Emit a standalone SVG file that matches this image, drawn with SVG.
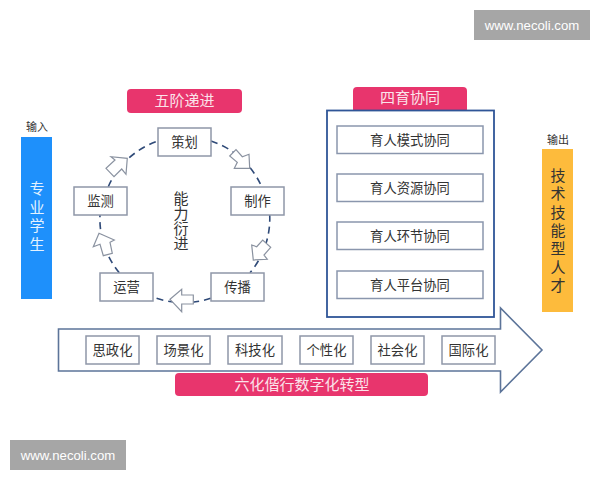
<svg xmlns="http://www.w3.org/2000/svg" width="600" height="480" viewBox="0 0 600 480">
<style>
text{font-family:"Noto Sans CJK SC","Noto Sans",sans-serif;text-anchor:middle;fill:#333}
.box{fill:#fff;stroke:#8f97a8;stroke-width:1.5}
.inner{fill:#fff;stroke:#8a96ad;stroke-width:1.5}
.t{font-size:13.3px}
.pill{fill:#e8356d}
.pt{font-size:15px;fill:#fbe3ea}
.arc{fill:none;stroke:#2f4a78;stroke-width:1.6;stroke-dasharray:7 5}
.blk{fill:#fff;stroke:#8a92a0;stroke-width:1.2;stroke-linejoin:miter}
.wm{fill:#a6a6a6}
.wt{font-family:"Liberation Sans",Arial,sans-serif;font-size:13.2px;fill:#fff}
.side{font-size:15px;writing-mode:vertical-rl;letter-spacing:3.4px}
.cap{font-size:11px}
</style>
<rect width="600" height="480" fill="#fff"/>
<g id="watermark-top"><rect class="wm" x="474" y="10" width="116" height="30"/><text class="wt" x="532" y="30">www.necoli.com</text></g>
<g id="watermark-bottom"><rect class="wm" x="10" y="440" width="116" height="30"/><text class="wt" x="68" y="460">www.necoli.com</text></g>

<g id="input"><text class="cap" x="37" y="131">输入</text><rect x="21" y="137" width="31" height="162" fill="#1e90fb"/>
<text class="side" x="37" y="218" style="fill:#e4f2ff">专业学生</text></g>

<g id="output"><text class="cap" x="558" y="144">输出</text><rect x="542" y="149" width="31" height="163" fill="#fdbb3c"/>
<text class="side" x="558" y="232">技术技能型人才</text></g>

<g id="label-wujie"><rect class="pill" x="127" y="89" width="115" height="24" rx="4"/><text class="pt" x="184.500" y="106">五阶递进</text></g>

<g id="connectors">
<path class="arc" d="M211 141A84 84 0 0 1 261.700 186.700"/>
<path class="arc" d="M269.700 214.700A84 84 0 0 1 250 272.700"/>
<path class="arc" d="M210.700 298.300A84 84 0 0 1 153.300 297"/>
<path class="arc" d="M119.300 272.700A84 84 0 0 1 100 214.700"/>
<path class="arc" d="M108.300 186.700A84 84 0 0 1 157.700 141"/>
<polygon class="blk" points="229.700,156 236,149.700 242.300,156.700 249,154.300 249.700,168.300 234.300,168.300 237.300,162.300"/>
<polygon class="blk" points="251.700,245 256.700,246.700 262.700,240 270.700,247.300 264,255 267.300,259.300 253.300,260"/>
<polygon class="blk" points="170,299.300 181.700,289.300 181.700,295 193.300,295 193.300,304 181.700,304 181.700,311.700"/>
<polygon class="blk" points="99,233.300 114.300,240 110,242.300 112.300,253.300 103.300,255.700 100,244.300 93.300,246.700"/>
<polygon class="blk" points="127.300,158.300 126,174.300 121.700,169 114,176.700 106,168.300 115,160 111,156.700"/>
</g>

<g id="node-cehua"><rect class="box" x="158" y="128" width="53" height="28"/><text class="t" x="184.500" y="147">策划</text></g>
<g id="node-zhizuo"><rect class="box" x="231" y="187" width="53" height="28"/><text class="t" x="257.500" y="206">制作</text></g>
<g id="node-chuanbo"><rect class="box" x="211" y="273" width="53" height="28"/><text class="t" x="237.500" y="292">传播</text></g>
<g id="node-yunying"><rect class="box" x="100" y="273" width="53" height="28"/><text class="t" x="126.500" y="292">运营</text></g>
<g id="node-jiance"><rect class="box" x="74" y="187" width="53" height="28"/><text class="t" x="100.500" y="206">监测</text></g>
<g id="center-label"><text x="181" y="221" style="font-size:15px;writing-mode:vertical-rl">能力衍进</text></g>

<g id="label-siyu"><rect class="pill" x="353" y="87" width="114" height="26" rx="4"/><text class="pt" x="410" y="103">四育协同</text></g>
<g id="panel"><rect x="327" y="110.500" width="167" height="206.500" fill="#fff" stroke="#2f5597" stroke-width="1.800"/></g>
<g id="node-moshi"><rect class="inner" x="337" y="126" width="146" height="27.500"/><text class="t" x="410" y="144.500">育人模式协同</text></g>
<g id="node-ziyuan"><rect class="inner" x="337" y="174" width="146" height="27.500"/><text class="t" x="410" y="192.500">育人资源协同</text></g>
<g id="node-huanjie"><rect class="inner" x="337" y="222" width="146" height="27.500"/><text class="t" x="410" y="240.500">育人环节协同</text></g>
<g id="node-pingtai"><rect class="inner" x="337" y="271" width="146" height="27.500"/><text class="t" x="410" y="289.500">育人平台协同</text></g>

<g id="big-arrow"><polygon points="58.500,329 500.500,329 500.500,308 542,350 500.500,392 500.500,371 58.500,371" fill="#fff" stroke="#5c7499" stroke-width="1.600"/></g>
<g id="node-sizheng"><rect class="box" x="86" y="336" width="53" height="28"/><text class="t" x="112.500" y="354.500">思政化</text></g>
<g id="node-changjing"><rect class="box" x="157" y="336" width="53" height="28"/><text class="t" x="183.500" y="354.500">场景化</text></g>
<g id="node-keji"><rect class="box" x="228" y="336" width="54" height="28"/><text class="t" x="255" y="354.500">科技化</text></g>
<g id="node-gexing"><rect class="box" x="300" y="336" width="53" height="28"/><text class="t" x="326.500" y="354.500">个性化</text></g>
<g id="node-shehui"><rect class="box" x="371" y="336" width="53" height="28"/><text class="t" x="397.500" y="354.500">社会化</text></g>
<g id="node-guoji"><rect class="box" x="442" y="336" width="53" height="28"/><text class="t" x="468.500" y="354.500">国际化</text></g>
<g id="label-liuhua"><rect class="pill" x="175" y="373" width="253" height="23" rx="4"/><text class="pt" x="302" y="390">六化偕行数字化转型</text></g>
</svg>
